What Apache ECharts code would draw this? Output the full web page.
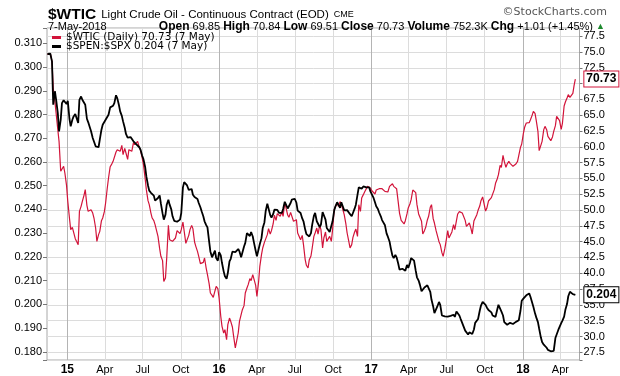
<!DOCTYPE html>
<html>
<head>
<meta charset="UTF-8">
<title>WTIC</title>
<script src="https://cdn.jsdelivr.net/npm/echarts@6/dist/echarts.min.js"></script>
</head>
<body style="margin:0;width:620px;height:376px;background:#fff;">
<div id="main" style="width:620px;height:376px;"></div>
<script>
// closes: Fridays (last point is 7 May 2018) ...
var weeks = [
  '2014-11-14','2014-11-21','2014-11-28','2014-12-05','2014-12-12','2014-12-19','2014-12-26',
  '2015-01-02','2015-01-09','2015-01-16','2015-01-23','2015-01-30','2015-02-06','2015-02-13','2015-02-20','2015-02-27',
  '2015-03-06','2015-03-13','2015-03-20','2015-03-27','2015-04-03','2015-04-10','2015-04-17','2015-04-24',
  '2015-05-01','2015-05-08','2015-05-15','2015-05-22','2015-05-29','2015-06-05','2015-06-12','2015-06-19','2015-06-26',
  '2015-07-03','2015-07-10','2015-07-17','2015-07-24','2015-07-31','2015-08-07','2015-08-14','2015-08-21','2015-08-28',
  '2015-09-04','2015-09-11','2015-09-18','2015-09-25','2015-10-02','2015-10-09','2015-10-16','2015-10-23','2015-10-30',
  '2015-11-06','2015-11-13','2015-11-20','2015-11-27','2015-12-04','2015-12-11','2015-12-18','2015-12-25',
  '2016-01-01','2016-01-08','2016-01-15','2016-01-22','2016-01-29','2016-02-05','2016-02-12','2016-02-19','2016-02-26',
  '2016-03-04','2016-03-11','2016-03-18','2016-03-25','2016-04-01','2016-04-08','2016-04-15','2016-04-22','2016-04-29',
  '2016-05-06','2016-05-13','2016-05-20','2016-05-27','2016-06-03','2016-06-10','2016-06-17','2016-06-24',
  '2016-07-01','2016-07-08','2016-07-15','2016-07-22','2016-07-29','2016-08-05','2016-08-12','2016-08-19','2016-08-26',
  '2016-09-02','2016-09-09','2016-09-16','2016-09-23','2016-09-30','2016-10-07','2016-10-14','2016-10-21','2016-10-28',
  '2016-11-04','2016-11-11','2016-11-18','2016-11-25','2016-12-02','2016-12-09','2016-12-16','2016-12-23','2016-12-30',
  '2017-01-06','2017-01-13','2017-01-20','2017-01-27','2017-02-03','2017-02-10','2017-02-17','2017-02-24',
  '2017-03-03','2017-03-10','2017-03-17','2017-03-24','2017-03-31','2017-04-07','2017-04-14','2017-04-21','2017-04-28',
  '2017-05-05','2017-05-12','2017-05-19','2017-05-26','2017-06-02','2017-06-09','2017-06-16','2017-06-23','2017-06-30',
  '2017-07-07','2017-07-14','2017-07-21','2017-07-28','2017-08-04','2017-08-11','2017-08-18','2017-08-25',
  '2017-09-01','2017-09-08','2017-09-15','2017-09-22','2017-09-29','2017-10-06','2017-10-13','2017-10-20','2017-10-27',
  '2017-11-03','2017-11-10','2017-11-17','2017-11-24','2017-12-01','2017-12-08','2017-12-15','2017-12-22','2017-12-29',
  '2018-01-05','2018-01-12','2018-01-19','2018-01-26','2018-02-02','2018-02-09','2018-02-16','2018-02-23',
  '2018-03-02','2018-03-09','2018-03-16','2018-03-23','2018-03-30','2018-04-06','2018-04-13','2018-04-20','2018-04-27',
  '2018-05-04','2018-05-07'
];

var wtic = [
  74.63, 74.74, 69.31, 66.94, 60.87, 56.39, 55.86,
  51.38, 46.90, 47.16, 45.05, 49.80, 51.38, 53.23, 49.80, 50.06,
  48.74, 45.05, 46.63, 48.74, 51.12, 55.07, 57.18, 57.71,
  59.55, 59.29, 58.76, 59.03, 59.55, 59.29, 60.34, 60.87, 59.40,
  57.18, 53.23, 50.85, 48.74, 47.69, 45.84, 42.68, 38.72, 42.42,
  45.31, 45.05, 45.58, 46.90, 46.90, 47.95, 44.79, 46.90, 47.06,
  44.26, 42.68, 41.63, 42.42, 39.78, 36.88, 36.19, 37.93,
  36.09, 31.61, 31.08, 31.87, 32.40, 30.02, 28.18, 32.40, 34.24,
  36.88, 38.20, 38.83, 40.04, 36.35, 41.10, 44.00, 44.63, 47.06,
  46.74, 49.17, 49.43, 49.01, 49.01, 50.33, 48.85, 49.80,
  47.95, 46.37, 45.31, 44.53, 41.26, 42.15, 44.00, 46.37, 46.21,
  46.90, 45.58, 45.05, 45.84, 46.90, 50.59, 50.59, 50.96, 49.27,
  46.37, 44.00, 45.68, 47.00, 50.85, 51.91, 52.86, 53.75, 53.49,
  53.17, 53.17, 53.38, 53.38, 52.96, 52.86, 54.02, 53.75,
  53.38, 49.53, 48.11, 48.32, 50.33, 51.64, 53.28, 50.85, 49.27,
  46.21, 47.27, 49.01, 50.85, 47.95, 46.63, 44.53, 42.68, 45.05,
  45.58, 46.53, 46.90, 49.38, 49.48, 49.69, 47.43, 47.95,
  46.21, 48.53, 49.96, 51.49, 51.12, 50.27, 51.64, 52.22, 54.23,
  55.60, 56.76, 57.71, 57.29, 57.39, 56.92, 57.29, 58.66, 60.45,
  63.09, 63.88, 64.30, 65.62, 64.14, 59.40, 60.87, 63.24,
  61.66, 60.98, 62.45, 64.83, 64.14, 63.77, 67.09, 68.25, 67.99,
  69.72, 70.73
];

var spenSpx = [
  0.3055, 0.3056, 0.2841, 0.2862, 0.2729, 0.2848, 0.2853,
  0.2858, 0.2750, 0.2792, 0.2806, 0.2862, 0.2862, 0.2841, 0.2768, 0.2729,
  0.2694, 0.2659, 0.2694, 0.2757, 0.2778, 0.2799, 0.2838, 0.2848,
  0.2869, 0.2813, 0.2771, 0.2718, 0.2705, 0.2697, 0.2687, 0.2680, 0.2652,
  0.2612, 0.2539, 0.2479, 0.2473, 0.2437, 0.2448, 0.2424, 0.2357, 0.2420,
  0.2420, 0.2371, 0.2354, 0.2345, 0.2385, 0.2515, 0.2501, 0.2480, 0.2462,
  0.2459, 0.2427, 0.2392, 0.2350, 0.2324, 0.2223, 0.2202, 0.2195,
  0.2220, 0.2174, 0.2118, 0.2132, 0.2192, 0.2223, 0.2223, 0.2223, 0.2206,
  0.2259, 0.2293, 0.2305, 0.2259, 0.2202, 0.2254, 0.2322, 0.2392, 0.2420,
  0.2366, 0.2399, 0.2398, 0.2378, 0.2402, 0.2420, 0.2406, 0.2441,
  0.2445, 0.2395, 0.2385, 0.2350, 0.2296, 0.2286, 0.2336, 0.2385, 0.2355,
  0.2336, 0.2396, 0.2322, 0.2305, 0.2350, 0.2413, 0.2424, 0.2430, 0.2396,
  0.2397, 0.2380, 0.2385, 0.2420, 0.2493, 0.2487, 0.2498, 0.2494, 0.2476,
  0.2451, 0.2413, 0.2387, 0.2355, 0.2333, 0.2285, 0.2237, 0.2195,
  0.2198, 0.2146, 0.2150, 0.2142, 0.2153, 0.2195, 0.2184, 0.2114, 0.2083,
  0.2055, 0.2076, 0.2076, 0.2019, 0.1963, 0.1991, 0.1998, 0.1945, 0.1949,
  0.1953, 0.1945, 0.1947, 0.1969, 0.1939, 0.1917, 0.1882, 0.1882,
  0.1875, 0.1922, 0.1938, 0.1995, 0.2010, 0.1987, 0.1973, 0.1953, 0.1947,
  0.1998, 0.1970, 0.1925, 0.1914, 0.1922, 0.1917, 0.1926, 0.1933, 0.2015,
  0.2029, 0.2045, 0.2032, 0.1990, 0.1945, 0.1897, 0.1841, 0.1823,
  0.1808, 0.1802, 0.1804, 0.1851, 0.1896, 0.1931, 0.1977, 0.2034, 0.2049,
  0.2042, 0.204
];

// ... and the Tuesdays in between
var midweeks = [
  '2014-11-18','2014-11-25','2014-12-02','2014-12-09','2014-12-16','2014-12-23','2014-12-30',
  '2015-01-06','2015-01-13','2015-01-20','2015-01-27','2015-02-03','2015-02-10','2015-02-17','2015-02-24',
  '2015-03-03','2015-03-10','2015-03-17','2015-03-24','2015-03-31','2015-04-07','2015-04-14','2015-04-21','2015-04-28',
  '2015-05-05','2015-05-12','2015-05-19','2015-05-26','2015-06-02','2015-06-09','2015-06-16','2015-06-23','2015-06-30',
  '2015-07-07','2015-07-14','2015-07-21','2015-07-28','2015-08-04','2015-08-11','2015-08-18','2015-08-25',
  '2015-09-01','2015-09-08','2015-09-15','2015-09-22','2015-09-29','2015-10-06','2015-10-13','2015-10-20','2015-10-27',
  '2015-11-03','2015-11-10','2015-11-17','2015-11-24','2015-12-01','2015-12-08','2015-12-15','2015-12-22','2015-12-29',
  '2016-01-05','2016-01-12','2016-01-19','2016-01-26','2016-02-02','2016-02-09','2016-02-16','2016-02-23',
  '2016-03-01','2016-03-08','2016-03-15','2016-03-22','2016-03-29','2016-04-05','2016-04-12','2016-04-19','2016-04-26',
  '2016-05-03','2016-05-10','2016-05-17','2016-05-24','2016-05-31','2016-06-07','2016-06-14','2016-06-21','2016-06-28',
  '2016-07-05','2016-07-12','2016-07-19','2016-07-26','2016-08-02','2016-08-09','2016-08-16','2016-08-23','2016-08-30',
  '2016-09-06','2016-09-13','2016-09-20','2016-09-27','2016-10-04','2016-10-11','2016-10-18','2016-10-25',
  '2016-11-01','2016-11-08','2016-11-15','2016-11-22','2016-11-29','2016-12-06','2016-12-13','2016-12-20','2016-12-27',
  '2017-01-03','2017-01-10','2017-01-17','2017-01-24','2017-01-31','2017-02-07','2017-02-14','2017-02-21','2017-02-28',
  '2017-03-07','2017-03-14','2017-03-21','2017-03-28','2017-04-04','2017-04-11','2017-04-18','2017-04-25',
  '2017-05-02','2017-05-09','2017-05-16','2017-05-23','2017-05-30','2017-06-06','2017-06-13','2017-06-20','2017-06-27',
  '2017-07-04','2017-07-11','2017-07-18','2017-07-25','2017-08-01','2017-08-08','2017-08-15','2017-08-22','2017-08-29',
  '2017-09-05','2017-09-12','2017-09-19','2017-09-26','2017-10-03','2017-10-10','2017-10-17','2017-10-24','2017-10-31',
  '2017-11-07','2017-11-14','2017-11-21','2017-11-28','2017-12-05','2017-12-12','2017-12-19','2017-12-26',
  '2018-01-02','2018-01-09','2018-01-16','2018-01-23','2018-01-30','2018-02-06','2018-02-13','2018-02-20','2018-02-27',
  '2018-03-06','2018-03-13','2018-03-20','2018-03-27','2018-04-03','2018-04-10','2018-04-17','2018-04-24',
  '2018-05-01'
];

var wticMid = [
  74.69, 73.53, 67.20, 62.72, 56.13, 56.92, 53.91,
  48.74, 47.27, 45.47, 44.53, 50.59, 52.33, 50.75, 50.11,
  49.53, 47.16, 46.11, 48.32, 49.75, 53.49, 56.86, 57.71, 59.18,
  59.82, 60.24, 59.76, 58.02, 59.82, 60.66, 60.03, 59.92, 58.24,
  55.07, 51.49, 49.53, 48.32, 46.63, 43.89, 42.00, 39.25,
  47.58, 45.47, 45.32, 46.74, 46.27, 48.11, 44.74, 46.00, 47.58,
  44.95, 43.47, 41.52, 41.73, 40.78, 38.36, 36.51, 37.20, 37.57,
  33.19, 30.55, 29.50, 32.92, 31.50, 28.18, 30.55, 33.45,
  34.88, 37.67, 39.15, 39.78, 38.09, 38.62, 42.94, 44.89, 46.11,
  46.21, 47.80, 48.37, 49.17, 49.69, 51.27, 49.22, 49.64, 48.22,
  48.48, 46.53, 46.00, 42.21, 40.83, 42.73, 45.84, 47.16, 47.58,
  44.00, 46.53, 44.95, 45.05, 50.06, 51.12, 51.33, 50.01,
  47.80, 45.05, 44.53, 46.53, 45.84, 49.80, 52.44, 52.96, 53.86,
  53.01, 52.54, 53.12, 53.17, 53.38, 52.65, 53.75, 54.17, 53.91,
  51.22, 48.37, 47.80, 49.38, 50.96, 53.17, 52.75, 49.38,
  48.22, 46.74, 48.43, 50.43, 48.64, 46.74, 45.00, 43.26, 43.89,
  46.74, 45.84, 47.69, 48.32, 49.75, 49.53, 48.37, 47.64, 47.06,
  48.27, 49.27, 50.64, 52.07, 49.85, 51.43, 51.96, 53.23, 54.91,
  57.08, 58.66, 56.76, 57.71, 57.39, 56.86, 57.71, 59.92,
  62.14, 63.77, 63.82, 64.98, 65.30, 62.45, 59.71, 62.72, 62.72,
  61.93, 61.56, 63.35, 65.09, 62.77, 66.46, 67.73, 67.83,
  68.47
];

var spenSpxMid = [
  0.3059, 0.3024, 0.2898, 0.2806, 0.2778, 0.2860, 0.2844,
  0.2782, 0.2778, 0.2802, 0.2764, 0.2876, 0.2861, 0.2782, 0.2760,
  0.2701, 0.2666, 0.2662, 0.2736, 0.2764, 0.2785, 0.2830, 0.2837, 0.2881,
  0.2840, 0.2794, 0.2744, 0.2702, 0.2705, 0.2687, 0.2674, 0.2662, 0.2626,
  0.2580, 0.2501, 0.2470, 0.2458, 0.2431, 0.2459, 0.2383, 0.2378,
  0.2441, 0.2400, 0.2352, 0.2348, 0.2357, 0.2493, 0.2513, 0.2482, 0.2486,
  0.2452, 0.2444, 0.2409, 0.2371, 0.2334, 0.2265, 0.2198, 0.2226, 0.2184,
  0.2206, 0.2139, 0.2108, 0.2181, 0.2222, 0.2220, 0.2233, 0.2198,
  0.2244, 0.2300, 0.2288, 0.2286, 0.2226, 0.2202, 0.2279, 0.2345, 0.2424,
  0.2376, 0.2380, 0.2393, 0.2386, 0.2385, 0.2432, 0.2404, 0.2427, 0.2442,
  0.2428, 0.2399, 0.2362, 0.2316, 0.2303, 0.2300, 0.2373, 0.2350, 0.2326,
  0.2389, 0.2357, 0.2322, 0.2303, 0.2397, 0.2430, 0.2407, 0.2431,
  0.2393, 0.2393, 0.2371, 0.2403, 0.2462, 0.2497, 0.2497, 0.2493, 0.2493,
  0.2469, 0.2430, 0.2402, 0.2371, 0.2348, 0.2298, 0.2265, 0.2205, 0.2208,
  0.2171, 0.2147, 0.2144, 0.2166, 0.2174, 0.2198, 0.2142, 0.2100,
  0.2055, 0.2071, 0.2080, 0.2053, 0.1991, 0.1959, 0.2010, 0.1953, 0.1949,
  0.1948, 0.1951, 0.1956, 0.1970, 0.1953, 0.1921, 0.1889, 0.1873, 0.1885,
  0.1894, 0.1928, 0.1973, 0.2010, 0.1998, 0.1976, 0.1966, 0.1948, 0.1977,
  0.1998, 0.1953, 0.1920, 0.1910, 0.1922, 0.1925, 0.1921, 0.1973,
  0.2024, 0.2038, 0.2046, 0.2028, 0.1962, 0.1925, 0.1861, 0.1830, 0.1817,
  0.1809, 0.1807, 0.1858, 0.1892, 0.1921, 0.1948, 0.2001, 0.2053,
  0.2043
];

var quarterTicks = [
  '2015-01-01','2015-04-01','2015-07-01','2015-10-01',
  '2016-01-01','2016-04-01','2016-07-01','2016-10-01',
  '2017-01-01','2017-04-01','2017-07-01','2017-10-01',
  '2018-01-01','2018-04-01'
];
var quarterLabels = ['15','Apr','Jul','Oct','16','Apr','Jul','Oct','17','Apr','Jul','Oct','18','Apr'];

var wticName = '$WTIC (Daily) 70.73 (7 May)';
var spenName = '$SPEN:$SPX 0.204 (7 May)';

var RED = '#d2143a';
var AXIS_FONT = 'Liberation Sans, Arial, sans-serif';

var myChart = echarts.init(document.getElementById('main'));

function toTime(s) { return echarts.time.parse(s).getTime(); }
var tickTimes = quarterTicks.map(toTime);

// put Friday and Tuesday readings together in date order
function merged(d1, v1, d2, v2) {
    var out = d1.map(function (d, i) { return [toTime(d), v1[i]]; })
        .concat(d2.map(function (d, i) { return [toTime(d), v2[i]]; }));
    out.sort(function (a, b) { return a[0] - b[0]; });
    return out;
}

// hide the extra labels echarts puts on the min / max of the extent
function stepLabel(step, digits) {
    return function (v) {
        var r = v / step;
        if (Math.abs(r - Math.round(r)) > 1e-6) return '';
        return v.toFixed(digits);
    };
}

option = {
    animation: false,
    backgroundColor: '#fff',
    title: [
        {
            left: 43, top: 1,
            text: '{a|$WTIC} {b|Light Crude Oil - Continuous Contract (EOD)} {c|CME}',
            textStyle: {
                fontWeight: 'normal',
                rich: {
                    a: { fontSize: 15.5, fontWeight: 'bold', fontFamily: AXIS_FONT, color: '#000' },
                    b: { fontSize: 11.5, fontWeight: 'normal', fontFamily: AXIS_FONT, color: '#000' },
                    c: { fontSize: 9, fontWeight: 'normal', fontFamily: AXIS_FONT, color: '#000' }
                }
            }
        },
        {
            left: 43, top: 16,
            text: '7-May-2018',
            textStyle: { fontSize: 11, fontWeight: 'normal', fontFamily: AXIS_FONT, color: '#000' }
        },
        {
            right: 10, top: 16,
            text: '{b|Open} 69.85 {b|High} 70.84 {b|Low} 69.51 {b|Close} 70.73 {b|Volume} 752.3K {b|Chg} +1.01 (+1.45%) {g|▲}',
            textStyle: {
                fontSize: 11, fontWeight: 'normal', fontFamily: AXIS_FONT, color: '#000',
                rich: {
                    b: { fontSize: 12, fontWeight: 'bold', fontFamily: AXIS_FONT, color: '#000' },
                    g: { fontSize: 9, color: '#1e8a2e' }
                }
            }
        },
        {
            right: 8, top: 2,
            text: '©StockCharts.com',
            textStyle: { fontSize: 11, fontWeight: 'normal', fontFamily: 'DejaVu Sans, sans-serif', color: '#555' }
        }
    ],
    legend: {
        left: 47, top: 27,
        orient: 'vertical',
        itemGap: -2,
        itemWidth: 9, itemHeight: 3,
        icon: 'rect',
        textStyle: { fontFamily: 'DejaVu Sans, sans-serif', fontSize: 10.5, color: '#000' },
        data: [wticName, spenName]
    },
    grid: {
        left: 47, right: 40.5, top: 28, bottom: 16,
        show: true, borderColor: '#a8a8a8', borderWidth: 1, containLabel: false
    },
    xAxis: {
        type: 'value',
        min: toTime('2014-11-13'),
        max: toTime('2018-05-17'),
        axisLine: { show: false },
        axisTick: { show: false, customValues: tickTimes },
        axisLabel: {
            customValues: tickTimes,
            margin: 4,
            fontFamily: AXIS_FONT, fontSize: 11, color: '#000',
            formatter: function (v) {
                var i = tickTimes.indexOf(v);
                if (i < 0) return '';
                return i % 4 === 0 ? '{y|' + quarterLabels[i] + '}' : quarterLabels[i];
            },
            rich: { y: { fontWeight: 'bold', fontSize: 12, fontFamily: AXIS_FONT, color: '#000' } }
        },
        splitLine: {
            show: true,
            lineStyle: { color: ['#b4b4b4', '#dcdcdc', '#dcdcdc', '#dcdcdc'], width: 1 }
        }
    },
    yAxis: [
        {
            type: 'value',
            position: 'left',
            min: 0.17654, max: 0.31645,
            minInterval: 0.01, maxInterval: 0.01,
            axisLine: { show: false },
            axisTick: { show: true, length: 4, lineStyle: { color: '#777' } },
            axisLabel: { margin: 5, fontFamily: AXIS_FONT, fontSize: 11, color: '#000', formatter: stepLabel(0.01, 3) },
            splitLine: { show: false }
        },
        {
            type: 'value',
            position: 'right',
            min: 26.28, max: 78.80,
            minInterval: 2.5, maxInterval: 2.5,
            axisLine: { show: false },
            axisTick: { show: true, length: 3, lineStyle: { color: '#777' } },
            axisLabel: { margin: 4, fontFamily: AXIS_FONT, fontSize: 11, color: '#000', formatter: stepLabel(2.5, 1) },
            splitLine: { show: true, lineStyle: { color: '#dcdcdc', width: 1 } }
        }
    ],
    series: [
        {
            name: wticName,
            type: 'line',
            yAxisIndex: 1,
            showSymbol: false,
            color: RED,
            lineStyle: { width: 1.2, color: RED },
            data: merged(weeks, wtic, midweeks, wticMid),
            endLabel: {
                show: true, distance: 9,
                formatter: function (p) { return p.value[1].toFixed(2); },
                fontFamily: AXIS_FONT, fontSize: 12, fontWeight: 'bold', color: '#000',
                backgroundColor: '#fff', borderColor: RED, borderWidth: 1, padding: [2, 2, 1, 2]
            }
        },
        {
            name: spenName,
            type: 'line',
            yAxisIndex: 0,
            showSymbol: false,
            color: '#000',
            lineStyle: { width: 1.8, color: '#000' },
            data: merged(weeks, spenSpx, midweeks, spenSpxMid),
            endLabel: {
                show: true, distance: 9,
                formatter: function (p) { return p.value[1].toFixed(3); },
                fontFamily: AXIS_FONT, fontSize: 12, fontWeight: 'bold', color: '#000',
                backgroundColor: '#fff', borderColor: '#000', borderWidth: 1, padding: [2, 2, 1, 2]
            }
        }
    ]
};

myChart.setOption(option);
</script>
</body>
</html>
